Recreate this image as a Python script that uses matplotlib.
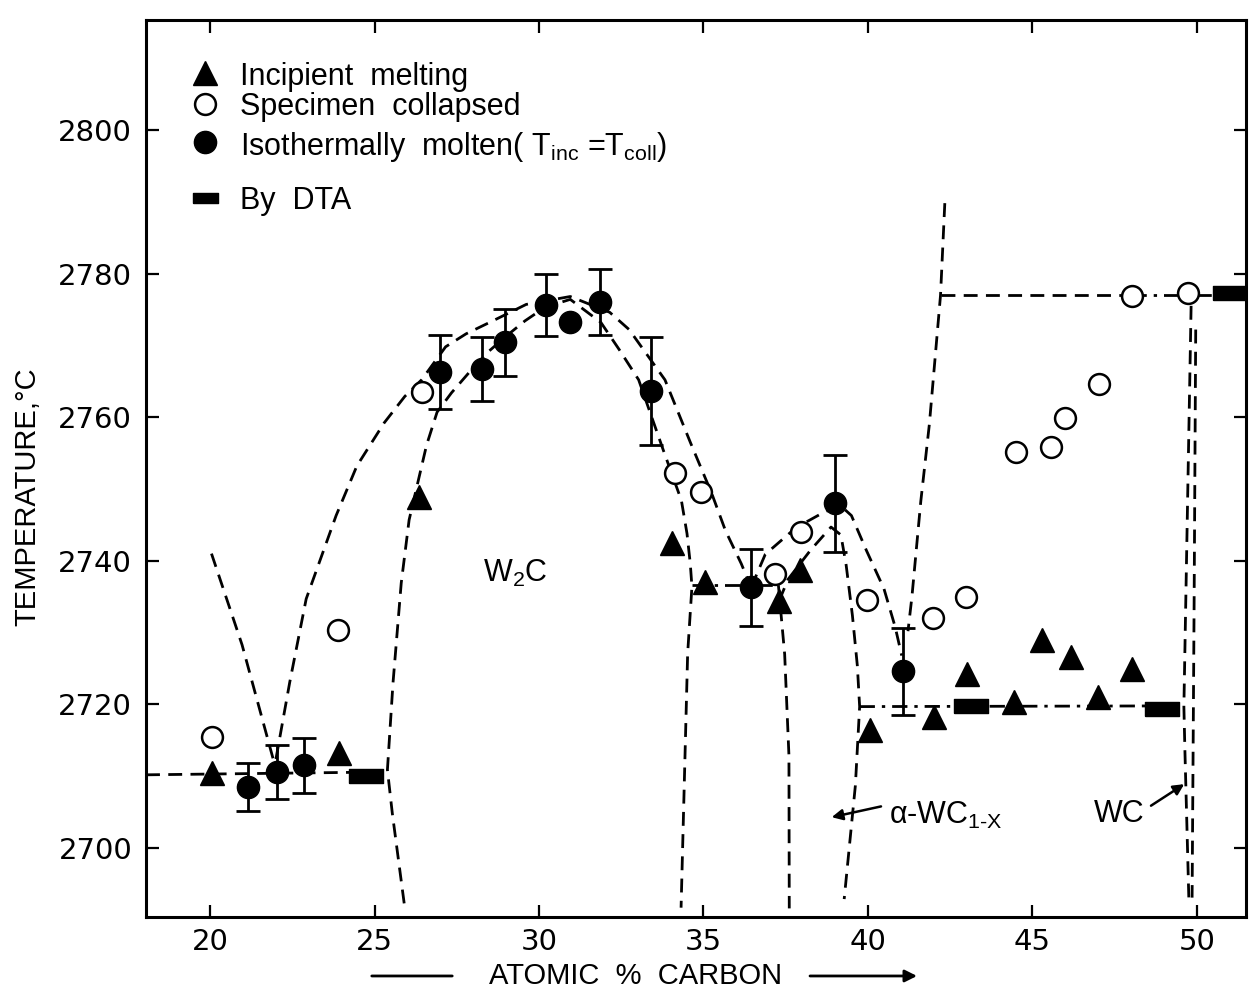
import numpy as np
import matplotlib
matplotlib.use('Agg')
import matplotlib.pyplot as plt

plt.rcParams['font.family'] = ['Liberation Sans', 'DejaVu Sans']
plt.rcParams['mathtext.fontset'] = 'custom'
plt.rcParams['mathtext.rm'] = 'Liberation Sans'
plt.rcParams['mathtext.it'] = 'Liberation Sans:italic'

# --- measured points (atomic % C, temperature in C) ---
incipient_x = [20.05, 23.93, 26.35, 34.05, 35.04, 37.31, 37.94, 40.08, 42.02,
               43.01, 44.43, 45.31, 46.17, 46.99, 48.02]
incipient_t = [2710.4, 2713.2, 2748.9, 2742.5, 2737.1, 2734.4, 2738.7, 2716.4,
               2718.2, 2724.3, 2720.4, 2729.0, 2726.6, 2721.1, 2725.0]

collapsed_x = [20.06, 23.90, 26.43, 34.13, 34.94, 37.17, 37.96, 39.98, 41.98,
               42.97, 44.51, 45.58, 46.00, 47.02, 48.03, 49.75]
collapsed_t = [2715.5, 2730.3, 2763.5, 2752.2, 2749.6, 2738.1, 2744.0, 2734.6,
               2732.1, 2734.9, 2755.2, 2755.8, 2759.9, 2764.6, 2776.9, 2777.3]

molten_x = [21.16, 22.02, 22.86, 26.99, 28.26, 28.98, 30.20, 30.95, 31.85,
            33.40, 36.45, 39.00, 41.06]
molten_t = [2708.5, 2710.6, 2711.5, 2766.3, 2766.7, 2770.4, 2775.6, 2773.2,
            2776.0, 2763.6, 2736.3, 2748.0, 2724.6]
molten_err = [3.4, 3.8, 3.8, 5.1, 4.4, 4.7, 4.3, 0.0, 4.6, 7.5, 5.4, 6.8, 6.1]

dta_x = [24.75, 43.13, 48.93, 51.01]
dta_t = [2710.1, 2719.8, 2719.3, 2777.3]

# --- phase boundaries ---
w_liq_x = [20.04, 20.97, 21.91]
w_liq_t = [2741.0, 2728.3, 2712.5]

w2c_liq_x = [22.00, 22.42, 22.92, 23.83, 24.46, 25.29, 25.92, 26.43, 27.16,
             27.78, 28.59, 29.61, 30.95, 32.15, 32.74, 33.83, 34.61, 35.25,
             35.67, 36.15, 36.45]
w2c_liq_t = [2712.4, 2723.1, 2734.7, 2746.3, 2753.2, 2759.2, 2762.9, 2765.2,
             2769.8, 2771.6, 2773.4, 2775.7, 2776.8, 2774.6, 2772.2, 2765.2,
             2756.4, 2749.4, 2744.2, 2739.6, 2736.3]

w2c_sol_x = [25.90, 25.54, 25.39, 25.56, 25.81, 26.05, 26.33, 26.58, 26.90,
             27.34, 27.87, 28.43, 28.98, 29.57, 30.18, 30.95, 31.88, 32.44,
             33.03, 33.78, 34.33, 34.50, 34.60, 34.65, 34.52, 34.32]
w2c_sol_t = [2692.3, 2704.8, 2710.9, 2723.0, 2736.9, 2745.7, 2751.2, 2756.1,
             2760.7, 2763.4, 2766.2, 2769.0, 2771.2, 2773.4, 2775.3, 2776.4,
             2773.2, 2769.4, 2765.2, 2755.4, 2748.4, 2743.8, 2739.6, 2736.4,
             2727.1, 2691.7]

eut1_x = [18.05, 25.39]
eut1_t = [2710.2, 2710.6]

eut2_x = [34.65, 37.28]
eut2_t = [2736.6, 2736.6]

alpha_left_x = [37.28, 37.47, 37.60, 37.61]
alpha_left_t = [2736.6, 2727.0, 2712.9, 2691.6]

alpha_liq_x = [36.45, 36.88, 37.81, 38.52, 39.14, 39.50, 39.96, 40.49, 40.83, 41.03]
alpha_liq_t = [2736.3, 2740.9, 2744.6, 2746.4, 2747.8, 2746.3, 2741.4, 2736.1,
               2730.8, 2726.8]

alpha_sol_x = [37.30, 37.57, 38.26, 38.88, 39.18, 39.34, 39.53, 39.68, 39.75,
               39.62, 39.28]
alpha_sol_t = [2734.4, 2737.4, 2741.5, 2744.7, 2743.6, 2739.4, 2732.4, 2725.4,
               2719.7, 2708.7, 2692.9]

top_line_x = [42.34, 42.21, 41.87, 41.61, 41.34, 41.22]
top_line_t = [2789.8, 2777.0, 2759.0, 2748.3, 2735.0, 2730.2]

upper_dash_x = [42.21, 48.00]
upper_dash_t = [2777.0, 2777.0]
upper_dashdot_x = [48.00, 51.00]
upper_dashdot_t = [2777.0, 2777.0]

lower_dashdot_x = [39.75, 49.58]
lower_dashdot_t = [2719.7, 2719.8]

wc_a_x = [49.83, 49.61, 49.64, 49.76]
wc_a_t = [2775.5, 2719.7, 2713.8, 2693.1]
wc_b_x = [49.97, 49.92, 49.86]
wc_b_t = [2772.2, 2733.2, 2693.1]

x_ticks = [20, 25, 30, 35, 40, 45, 50]
y_ticks = [2700, 2720, 2740, 2760, 2780, 2800]

# --- figure ---
fig = plt.figure(figsize=(12.59, 10.01), dpi=100)
ax = fig.add_axes([0.1160, 0.0839, 0.8737, 0.8961])
ax.set_xlim(18.05, 51.5)
ax.set_ylim(2690.4, 2815.3)

LW = 2.0
dash = (0, (5, 3))
dashdot = (0, (5.5, 2.5, 1.2, 2.5))

def bline(x, t, ls=dash):
    ax.plot(x, t, color='black', lw=LW, linestyle=ls, zorder=2,
            dash_capstyle='butt')

bline(w_liq_x, w_liq_t)
bline(w2c_liq_x, w2c_liq_t)
bline(w2c_sol_x, w2c_sol_t)
bline(eut1_x, eut1_t)
bline(eut2_x, eut2_t, dashdot)
bline(alpha_left_x, alpha_left_t)
bline(alpha_liq_x, alpha_liq_t)
bline(alpha_sol_x, alpha_sol_t)
bline(top_line_x, top_line_t)
bline(upper_dash_x, upper_dash_t)
bline(upper_dashdot_x, upper_dashdot_t, dashdot)
bline(lower_dashdot_x, lower_dashdot_t, dashdot)
bline(wc_a_x, wc_a_t)
bline(wc_b_x, wc_b_t)

# error bars (one molten point has none)
mx = np.array(molten_x)
mt = np.array(molten_t)
me = np.array(molten_err)
has_err = me > 0
ax.errorbar(mx[has_err], mt[has_err], yerr=me[has_err], fmt='none',
            ecolor='black', elinewidth=2.0, capsize=8.5, capthick=2.0, zorder=3)

rect = [(-1, -0.42), (1, -0.42), (1, 0.42), (-1, 0.42), (-1, -0.42)]

ax.plot(incipient_x, incipient_t, linestyle='none', marker='^', ms=17,
        color='black', zorder=4)
ax.plot(collapsed_x, collapsed_t, linestyle='none', marker='o', ms=15,
        mfc='white', mec='black', mew=1.8, zorder=4)
ax.plot(mx, mt, linestyle='none', marker='o', ms=16, color='black', zorder=4)
ax.plot(dta_x, dta_t, linestyle='none', marker=rect, ms=24, color='black',
        zorder=4)

# legend drawn by hand
lx = 0.054
tx = 0.0855
rows = [0.9409, 0.9064, 0.8640, 0.8016]
ax.plot([lx], [rows[0]], marker='^', ms=17, color='black',
        transform=ax.transAxes, linestyle='none')
ax.plot([lx], [rows[1]], marker='o', ms=15, mfc='white', mec='black', mew=1.8,
        transform=ax.transAxes, linestyle='none')
ax.plot([lx], [rows[2]], marker='o', ms=16, color='black',
        transform=ax.transAxes, linestyle='none')
ax.plot([lx], [rows[3]], marker=rect, ms=18, color='black',
        transform=ax.transAxes, linestyle='none')
leg_labels = ['Incipient  melting', 'Specimen  collapsed',
              r'Isothermally  molten( $\mathrm{T_{inc}}$ =$\mathrm{T_{coll}}$)',
              'By  DTA']
for r, lab in zip(rows, leg_labels):
    ax.text(tx, r, lab, transform=ax.transAxes, fontsize=22,
            va='center_baseline', ha='left')

# phase labels
ax.text(29.27, 2738.3, r'W$_\mathrm{2}$C', fontsize=22, ha='center', va='center')
ax.text(40.64, 2704.6, r'α-WC$_{\mathrm{1}\text{-}\mathrm{X}}$', fontsize=22,
        ha='left', va='center')
ax.text(47.63, 2704.8, 'WC', fontsize=22, ha='center', va='center')
ax.annotate('', xy=(38.90, 2704.3), xytext=(40.40, 2705.8),
            arrowprops=dict(arrowstyle='-|>', lw=1.8, color='black',
                            mutation_scale=16, shrinkA=0, shrinkB=0))
ax.annotate('', xy=(49.62, 2708.9), xytext=(48.61, 2705.9),
            arrowprops=dict(arrowstyle='-|>', lw=1.8, color='black',
                            mutation_scale=16, shrinkA=0, shrinkB=0))

# axes styling
ax.set_xticks(x_ticks)
ax.set_yticks(y_ticks)
ax.tick_params(direction='in', length=9, width=1.6, top=True, right=True,
               labelsize=21)
ax.tick_params(axis='x', pad=8)
ax.tick_params(axis='y', pad=10)
for lab in ax.get_xticklabels() + ax.get_yticklabels():
    lab.set_fontfamily('DejaVu Sans')
for sp in ax.spines.values():
    sp.set_linewidth(2.2)

# axis titles
fig.text(0.022, 0.5035, 'TEMPERATURE,°C', rotation=90, ha='center',
         va='center', fontsize=21)
fig.text(0.505, 0.025, 'ATOMIC  %  CARBON', ha='center', va='center', fontsize=21)
ax.annotate('', xy=(455 / 1259, 0.025), xytext=(369 / 1259, 0.025),
            xycoords='figure fraction',
            arrowprops=dict(arrowstyle='-', lw=2, color='black'))
ax.annotate('', xy=(917 / 1259, 0.025), xytext=(810 / 1259, 0.025),
            xycoords='figure fraction',
            arrowprops=dict(arrowstyle='-|>', lw=2, color='black',
                            mutation_scale=18, shrinkA=0, shrinkB=0))

fig.savefig('out.png', dpi=100, facecolor='white')
